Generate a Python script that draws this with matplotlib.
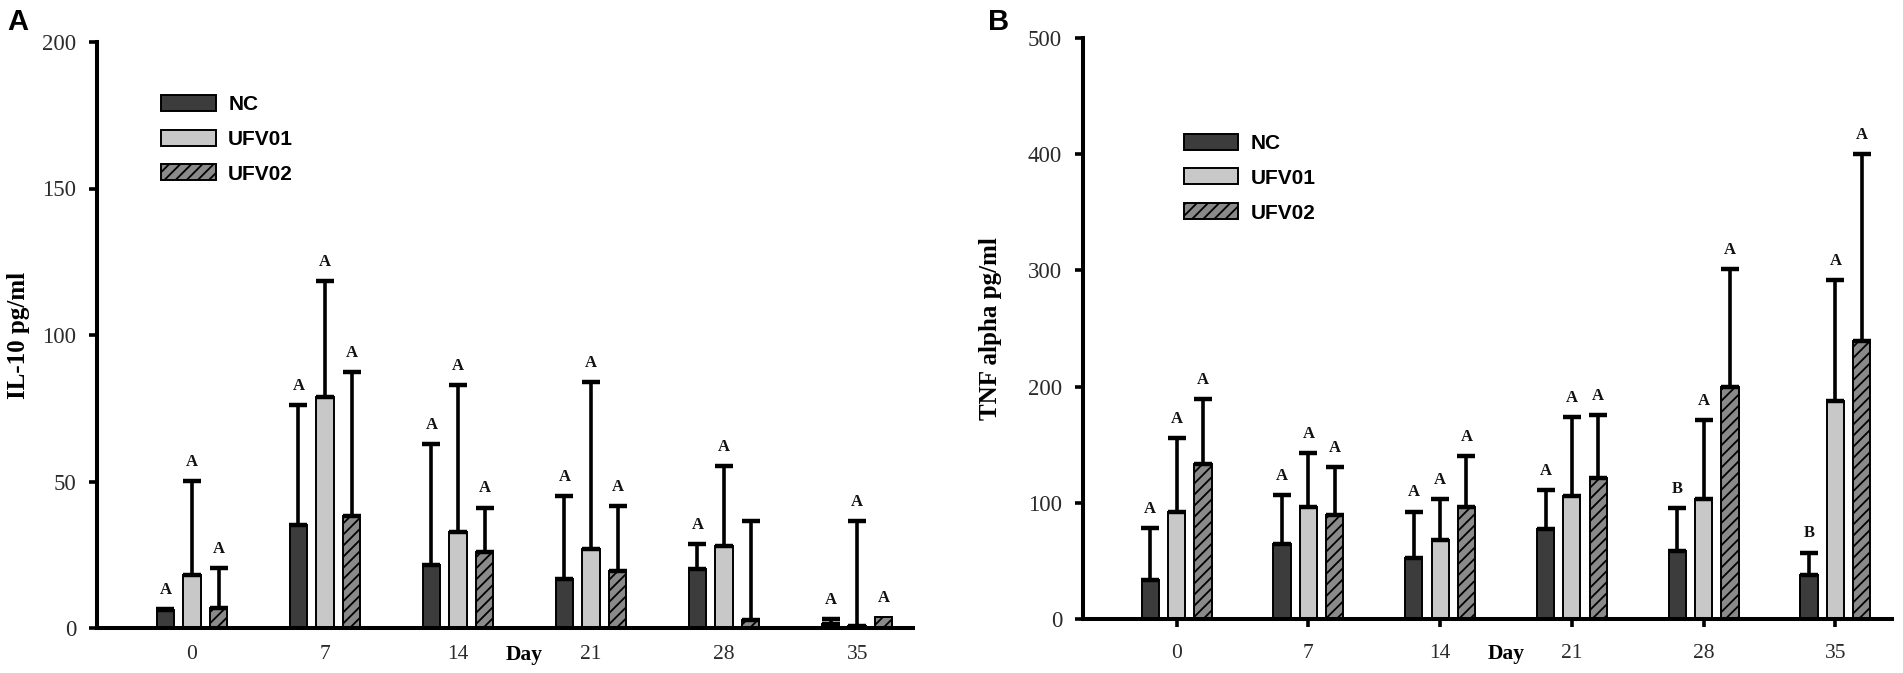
import numpy as np
import matplotlib
matplotlib.use("Agg")
import matplotlib.pyplot as plt
from matplotlib.patches import Patch

# ---------------- data ----------------
days = ["0", "7", "14", "21", "28", "35"]
groups = ["NC", "UFV01", "UFV02"]

il10_nc = [6.0, 35.0, 21.5, 16.7, 20.2, 1.4]
il10_nc_err = [0.5, 41.0, 41.3, 28.4, 8.6, 1.8]
il10_u1 = [18.2, 79.0, 32.7, 27.0, 28.1, 0.8]
il10_u1_err = [32.1, 39.4, 50.3, 56.9, 27.2, 35.8]
il10_u2 = [6.8, 38.1, 25.9, 19.3, 2.6, 3.6]
il10_u2_err = [13.7, 49.4, 15.2, 22.4, 34.0, 0.0]
il10_nc_let = ["A", "A", "A", "A", "A", "A"]
il10_u1_let = ["A", "A", "A", "A", "A", "A"]
il10_u2_let = ["A", "A", "A", "A", "", "A"]

tnf_nc = [33.8, 64.5, 52.4, 77.8, 59.0, 37.7]
tnf_nc_err = [44.4, 42.4, 40.2, 33.6, 36.7, 19.7]
tnf_u1 = [92.6, 96.3, 68.1, 106.0, 103.0, 187.7]
tnf_u1_err = [63.0, 46.4, 34.9, 68.2, 68.0, 104.2]
tnf_u2 = [133.5, 89.4, 96.7, 121.5, 199.3, 239.5]
tnf_u2_err = [55.6, 41.8, 43.9, 54.3, 102.0, 160.1]
tnf_nc_let = ["A", "A", "A", "A", "B", "B"]
tnf_u1_let = ["A", "A", "A", "A", "A", "A"]
tnf_u2_let = ["A", "A", "A", "A", "A", "A"]

# ---------------- style ----------------
SERIF = "Liberation Serif"
SANS = "Liberation Sans"
face = ["#3c3c3c", "#c8c8c8", "#8a8a8a"]
hatches = [None, None, "///"]
plt.rcParams["hatch.linewidth"] = 1.3
plt.rcParams["hatch.color"] = "black"

fig = plt.figure(figsize=(19.03, 6.73), dpi=100)
axA = fig.add_axes([97 / 1903, 1 - 628 / 673, 816 / 1903, 586 / 673])
axB = fig.add_axes([1083 / 1903, 1 - 619.3 / 673, 809 / 1903, 581.6 / 673])

offsets = [-0.2, 0.0, 0.2]
width = 0.13


def draw(ax, series, errs, letters, ymax, yticks, ylabel, xticks_marks, xr, legend_anchor):
    x = np.arange(len(days))
    for i, (vals, er, lets) in enumerate(zip(series, errs, letters)):
        xs = x + offsets[i]
        ax.bar(xs, vals, width, color=face[i], edgecolor="black", linewidth=1.4,
               hatch=hatches[i], zorder=2)
        vals = np.array(vals)
        er = np.array(er)
        m = er > 0
        ax.errorbar(xs[m], vals[m], yerr=[np.zeros(m.sum()), er[m]], fmt="none",
                    ecolor="black", elinewidth=2.6, capsize=6.8, capthick=3.2, zorder=3)
        for xi, v, e, l in zip(xs, vals, er, lets):
            if l:
                ax.annotate(l, xy=(xi, v + e), xytext=(0, 8), textcoords="offset points",
                            ha="center", va="bottom", fontsize=12, fontweight="bold",
                            family=SERIF, color="#111111")
    ax.set_xlim(*xr)
    ax.set_ylim(0, ymax)
    ax.set_yticks(yticks)
    ax.set_xticks(x)
    ax.set_xticklabels(days)
    for s in ["top", "right"]:
        ax.spines[s].set_visible(False)
    for s in ["left", "bottom"]:
        ax.spines[s].set_linewidth(2.9)
    ax.tick_params(axis="y", direction="out", length=6, width=2.6, pad=9,
                   labelsize=16.5, labelcolor="#2a2a2a")
    if xticks_marks:
        ax.tick_params(axis="x", direction="out", length=6, width=2.6, pad=12,
                       labelsize=15.5, labelcolor="#2a2a2a")
    else:
        ax.tick_params(axis="x", length=0, pad=12, labelsize=15.5, labelcolor="#2a2a2a")
    for lab in ax.get_xticklabels() + ax.get_yticklabels():
        lab.set_family(SERIF)
    ax.set_ylabel(ylabel, family=SERIF, fontweight="bold", fontsize=18)
    ax.annotate("Day", xy=(2.5, 0), xycoords=("data", "axes fraction"),
                xytext=(0, -(12 + (6 if xticks_marks else 0))), textcoords="offset points",
                ha="center", va="top", fontsize=15.5, fontweight="bold", family=SERIF)
    handles = [Patch(facecolor=face[i], edgecolor="black", linewidth=1.4, hatch=hatches[i],
                     label=groups[i]) for i in range(3)]
    ax.legend(handles=handles, loc="upper left", bbox_to_anchor=legend_anchor,
              frameon=False, prop={"family": SANS, "weight": "bold", "size": 15},
              handlelength=2.6, handleheight=0.8, handletextpad=0.6, labelspacing=0.75,
              borderpad=0, borderaxespad=0)


draw(axA, [il10_nc, il10_u1, il10_u2], [il10_nc_err, il10_u1_err, il10_u2_err],
     [il10_nc_let, il10_u1_let, il10_u2_let], 200, [0, 50, 100, 150, 200],
     "IL-10 pg/ml", False, (-0.714, 5.42), (0.079, 0.91))
draw(axB, [tnf_nc, tnf_u1, tnf_u2], [tnf_nc_err, tnf_u1_err, tnf_u2_err],
     [tnf_nc_let, tnf_u1_let, tnf_u2_let], 500, [0, 100, 200, 300, 400, 500],
     "TNF alpha pg/ml", True, (-0.711, 5.43), (0.125, 0.835))

axA.yaxis.set_label_coords(-0.082, 0.5)
axB.yaxis.set_label_coords(-0.100, 0.5)

fig.text(7 / 1903, 1 - 8 / 673, "A", family=SANS, fontweight="bold", fontsize=21,
         ha="left", va="top")
fig.text(988 / 1903, 1 - 8 / 673, "B", family=SANS, fontweight="bold", fontsize=21,
         ha="left", va="top")

fig.savefig("out.png", dpi=100)
